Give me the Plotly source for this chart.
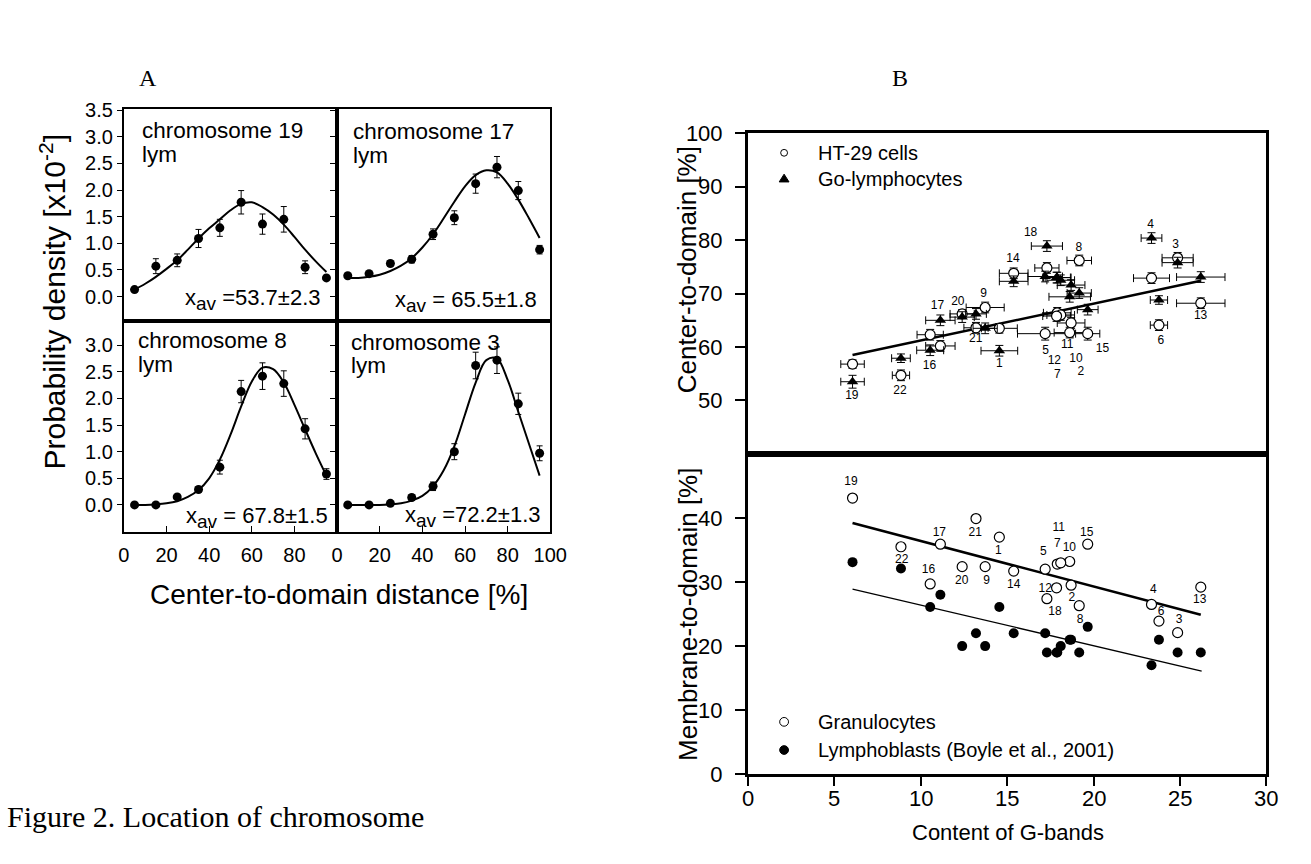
import plotly.graph_objects as go

W, H = 1311, 864
def px(x): return x / W
def py(y): return 1 - y / H

SANS = "Liberation Sans, Arial, sans-serif"
SERIF = "Liberation Serif, Times New Roman, serif"

# ---------------- Panel A data ----------------
bin_centers = [5, 15, 25, 35, 45, 55, 65, 75, 85, 95]
chr19_density = [0.13, 0.57, 0.68, 1.09, 1.29, 1.77, 1.36, 1.45, 0.55, 0.35]
chr19_err     = [0.00, 0.14, 0.12, 0.17, 0.16, 0.22, 0.19, 0.24, 0.12, 0.00]
chr17_density = [0.39, 0.43, 0.62, 0.70, 1.17, 1.48, 2.12, 2.43, 1.99, 0.88]
chr17_err     = [0.00, 0.00, 0.05, 0.07, 0.10, 0.13, 0.18, 0.20, 0.17, 0.08]
chr8_density  = [0.00, 0.00, 0.15, 0.29, 0.71, 2.13, 2.42, 2.28, 1.43, 0.58]
chr8_err      = [0.00, 0.00, 0.03, 0.05, 0.13, 0.21, 0.25, 0.24, 0.19, 0.10]
chr3_density  = [0.00, 0.00, 0.03, 0.14, 0.35, 1.00, 2.62, 2.72, 1.90, 0.97]
chr3_err      = [0.00, 0.00, 0.02, 0.05, 0.08, 0.15, 0.25, 0.25, 0.20, 0.14]

fit_x = [5, 10, 15, 20, 25, 30, 35, 40, 45, 50, 55, 60, 65, 70, 75, 80, 85, 90, 95]
chr19_fit = [0.13, 0.24, 0.37, 0.52, 0.68, 0.88, 1.09, 1.28, 1.45, 1.62, 1.74, 1.77, 1.68, 1.54, 1.35, 1.12, 0.88, 0.66, 0.46]
chr17_fit = [0.35, 0.35, 0.37, 0.41, 0.48, 0.58, 0.72, 0.92, 1.17, 1.47, 1.78, 2.07, 2.28, 2.37, 2.33, 2.12, 1.82, 1.47, 1.10]
chr8_fit  = [0.00, 0.00, 0.01, 0.03, 0.07, 0.15, 0.28, 0.50, 0.85, 1.32, 1.85, 2.32, 2.58, 2.55, 2.30, 1.88, 1.42, 0.97, 0.55]
chr3_fit  = [0.00, 0.00, 0.00, 0.00, 0.01, 0.03, 0.08, 0.17, 0.35, 0.65, 1.10, 1.70, 2.30, 2.72, 2.75, 2.35, 1.75, 1.15, 0.55]

panel_titles = ["chromosome 19", "chromosome 17", "chromosome 8", "chromosome 3"]
panel_sub = "lym"
SUB = "<sub><span style='font-size:19px'>av</span></sub>"
xav_texts = ["x" + SUB + " =53.7±2.3", "x" + SUB + " = 65.5±1.8",
             "x" + SUB + " = 67.8±1.5", "x" + SUB + " =72.2±1.3"]

# ---------------- Panel B data ----------------
chromosomes = ["1", "2", "3", "4", "5", "6", "7", "8", "9", "10", "11",
               "12", "13", "14", "15", "16", "17", "18", "19", "20", "21", "22"]
gband_content = [14.55, 18.70, 24.86, 23.35, 17.20, 23.78, 17.90, 19.17, 13.73, 18.62, 18.10,
                 17.86, 26.20, 15.38, 19.66, 10.55, 11.14, 17.30, 6.06, 12.40, 13.20, 8.86]
ht29_center = [63.5, 64.5, 76.7, 72.9, 62.5, 64.1, 66.4, 76.2, 67.4, 62.7, 66.0,
               65.8, 68.2, 73.8, 62.5, 62.3, 60.2, 74.8, 56.8, 66.2, 63.6, 54.7]
ht29_xerr = [1.04, 0.80, 0.90, 1.04, 1.60, 0.50, 0.80, 0.71, 1.10, 0.90, 0.80,
             0.80, 1.40, 0.83, 0.70, 0.76, 0.85, 0.70, 0.68, 0.70, 0.70, 0.50]
ht29_yerr = [0.9, 1.0, 1.0, 1.0, 1.2, 1.0, 1.0, 1.0, 1.0, 1.0, 1.0,
             1.0, 1.0, 1.0, 1.2, 1.0, 1.0, 1.0, 0.8, 0.8, 1.0, 1.0]
golym_center = [59.3, 71.6, 75.8, 80.4, 73.2, 68.8, 73.0, 70.1, 63.5, 69.4, 72.5,
                73.0, 73.1, 72.3, 67.0, 59.4, 65.0, 78.9, 53.5, 65.6, 66.2, 57.9]
golym_xerr = [1.06, 0.80, 0.90, 0.60, 1.00, 0.50, 0.80, 0.70, 0.70, 1.20, 0.80,
              0.80, 1.40, 0.83, 0.60, 0.78, 0.85, 0.90, 0.68, 0.70, 0.60, 0.54]
golym_yerr = [1.0, 1.0, 1.0, 1.0, 1.0, 0.8, 1.0, 1.0, 1.0, 1.0, 1.0,
              1.0, 1.0, 1.0, 1.0, 1.0, 1.0, 1.0, 1.2, 1.0, 1.0, 0.8]
gran_membrane = [37.0, 29.5, 22.1, 26.5, 32.0, 23.9, 32.8, 26.3, 32.4, 33.2, 33.0,
                 29.1, 29.2, 31.7, 35.9, 29.7, 35.9, 27.4, 43.1, 32.4, 39.9, 35.5]
lymphoblast_membrane = [26.1, 21.0, 19.0, 17.0, 22.0, 21.0, 19.0, 19.0, 20.0, 21.0, 20.0,
                        19.0, 19.0, 22.0, 23.0, 26.1, 28.0, 19.0, 33.1, 20.0, 22.0, 32.1]
gband_ticks = [0, 5, 10, 15, 20, 25, 30]

# regression lines (end points)
fit_center_x = [6.06, 26.2]
fit_center_y = [58.5, 72.4]
fit_gran_x = [6.06, 26.2]
fit_gran_y = [39.2, 24.9]
fit_lymb_x = [6.06, 26.25]
fit_lymb_y = [28.9, 16.1]

# label placements (layout, in data units)
upper_label_x = [14.55, 19.26, 24.74, 23.30, 17.22, 23.89, 17.90, 19.15, 13.64, 18.98, 18.47,
                 17.73, 26.19, 15.34, 20.51, 10.51, 10.97, 16.36, 6.02, 12.15, 13.18, 8.80]
upper_label_y = [56.9, 55.3, 79.1, 82.9, 59.3, 61.1, 54.7, 78.5, 70.0, 57.8, 60.4,
                 57.3, 65.8, 76.5, 59.6, 56.5, 67.6, 81.3, 50.9, 68.5, 61.5, 51.8]
lower_label_x = [14.49, 18.75, 24.94, 23.45, 17.09, 23.90, 17.90, 19.22, 13.81, 18.60, 17.99,
                 17.20, 26.14, 15.38, 19.60, 10.45, 11.08, 17.77, 5.97, 12.37, 13.16, 8.90]
lower_label_y = [34.8, 27.5, 24.0, 28.8, 34.7, 25.3, 35.9, 24.1, 30.2, 35.3, 38.4,
                 28.9, 27.2, 29.5, 37.7, 31.8, 37.6, 25.3, 45.6, 30.2, 37.6, 33.5]

fig = go.Figure()

# ---------------- Panel A traces ----------------
panelsA = [("x", "y", chr19_density, chr19_err, chr19_fit),
           ("x2", "y2", chr17_density, chr17_err, chr17_fit),
           ("x3", "y3", chr8_density, chr8_err, chr8_fit),
           ("x4", "y4", chr3_density, chr3_err, chr3_fit)]
for xa, ya, dens, err, fit in panelsA:
    fig.add_trace(go.Scatter(x=fit_x, y=fit, mode="lines", xaxis=xa, yaxis=ya,
                             line=dict(color="black", width=2, shape="spline"),
                             showlegend=False, hoverinfo="skip"))
    fig.add_trace(go.Scatter(x=bin_centers, y=dens, mode="markers", xaxis=xa, yaxis=ya,
                             marker=dict(color="black", size=9),
                             error_y=dict(type="data", array=err, color="black",
                                          thickness=1, width=3),
                             showlegend=False, cliponaxis=False))

# ---------------- Panel B traces ----------------
fig.add_trace(go.Scatter(x=fit_center_x, y=fit_center_y, mode="lines", xaxis="x5", yaxis="y5",
                         line=dict(color="black", width=2.5), showlegend=False))
fig.add_trace(go.Scatter(x=gband_content, y=ht29_center, mode="markers", xaxis="x5", yaxis="y5",
                         marker=dict(symbol="circle", size=10, color="white",
                                     line=dict(color="black", width=1.2)),
                         error_x=dict(type="data", array=ht29_xerr, color="black", thickness=1, width=4),
                         error_y=dict(type="data", array=ht29_yerr, color="black", thickness=1, width=4),
                         showlegend=False))
fig.add_trace(go.Scatter(x=gband_content, y=golym_center, mode="markers", xaxis="x5", yaxis="y5",
                         marker=dict(symbol="triangle-up", size=10, color="black"),
                         error_x=dict(type="data", array=golym_xerr, color="black", thickness=1, width=4),
                         error_y=dict(type="data", array=golym_yerr, color="black", thickness=1, width=4),
                         showlegend=False))
fig.add_trace(go.Scatter(x=upper_label_x, y=upper_label_y, text=chromosomes, mode="text",
                         xaxis="x5", yaxis="y5", textfont=dict(family=SANS, size=12, color="black"),
                         showlegend=False))

fig.add_trace(go.Scatter(x=fit_gran_x, y=fit_gran_y, mode="lines", xaxis="x6", yaxis="y6",
                         line=dict(color="black", width=2.5), showlegend=False))
fig.add_trace(go.Scatter(x=fit_lymb_x, y=fit_lymb_y, mode="lines", xaxis="x6", yaxis="y6",
                         line=dict(color="black", width=1.3), showlegend=False))
fig.add_trace(go.Scatter(x=gband_content, y=lymphoblast_membrane, mode="markers", xaxis="x6", yaxis="y6",
                         marker=dict(symbol="circle", size=10, color="black"), showlegend=False))
fig.add_trace(go.Scatter(x=gband_content, y=gran_membrane, mode="markers", xaxis="x6", yaxis="y6",
                         marker=dict(symbol="circle", size=10, color="white",
                                     line=dict(color="black", width=1.2)), showlegend=False))
fig.add_trace(go.Scatter(x=lower_label_x, y=lower_label_y, text=chromosomes, mode="text",
                         xaxis="x6", yaxis="y6", textfont=dict(family=SANS, size=12, color="black"),
                         showlegend=False))

# ---------------- Axes ----------------
tickfontA = dict(family=SANS, size=20, color="black")
tickfontB = dict(family=SANS, size=22, color="black")
common = dict(showline=True, linecolor="black", mirror=True, showgrid=False, zeroline=False)

xA_left = [px(120), px(337)]
xA_right = [px(337), px(554)]
yA_top = [py(318), py(100)]
yA_bot = [py(535), py(318)]
top_range = [-0.456, 3.52]
bot_range = [-0.50, 3.46]
yticks_top = [0, 0.5, 1.0, 1.5, 2.0, 2.5, 3.0, 3.5]
yticks_bot = [0, 0.5, 1.0, 1.5, 2.0, 2.5, 3.0]

def ylab(v): return ["%.1f" % t for t in v]

layout_axes = dict(
    xaxis=dict(domain=xA_left, range=[0, 100], anchor="y", showticklabels=False, ticks="",
               linewidth=2, **common),
    yaxis=dict(domain=yA_top, range=top_range, anchor="x", tickvals=yticks_top, ticktext=ylab(yticks_top),
               ticks="outside", ticklen=5, tickcolor="black", tickfont=tickfontA,
               ticklabelstandoff=0, linewidth=2, **common),
    xaxis2=dict(domain=xA_right, range=[0, 100], anchor="y2", showticklabels=False, ticks="",
                linewidth=2, **common),
    yaxis2=dict(domain=yA_top, range=top_range, anchor="x2", tickvals=yticks_top,
                showticklabels=False, ticks="outside", ticklen=5, tickcolor="black",
                linewidth=2, **common),
    xaxis3=dict(domain=xA_left, range=[0, 100], anchor="y3", tickvals=[0, 20, 40, 60, 80],
                ticks="inside", ticklen=6, tickcolor="black", tickfont=tickfontA,
                ticklabelstandoff=4, linewidth=2, **common),
    yaxis3=dict(domain=yA_bot, range=bot_range, anchor="x3", tickvals=yticks_bot, ticktext=ylab(yticks_bot),
                ticks="outside", ticklen=5, tickcolor="black", tickfont=tickfontA,
                ticklabelstandoff=0, linewidth=2, **common),
    xaxis4=dict(domain=xA_right, range=[0, 100], anchor="y4", tickvals=[0, 20, 40, 60, 80, 100],
                ticks="inside", ticklen=6, tickcolor="black", tickfont=tickfontA,
                ticklabelstandoff=4, linewidth=2, **common),
    yaxis4=dict(domain=yA_bot, range=bot_range, anchor="x4", tickvals=yticks_bot,
                showticklabels=False, ticks="outside", ticklen=5, tickcolor="black",
                linewidth=2, **common),
    xaxis5=dict(domain=[px(755), px(1283)], range=[0, 30], anchor="y5", showticklabels=False,
                ticks="", linewidth=2.5, **common),
    yaxis5=dict(domain=[py(455), py(125)], range=[40, 100], anchor="x5",
                tickvals=[50, 60, 70, 80, 90, 100], ticks="outside", ticklen=10, tickwidth=2,
                tickcolor="black", tickfont=tickfontB, ticklabelstandoff=8, linewidth=2.5, **common),
    xaxis6=dict(domain=[px(755), px(1283)], range=[0, 30], anchor="y6",
                tickvals=gband_ticks, ticks="outside", ticklen=9, tickwidth=2,
                tickcolor="black", showticklabels=False, linewidth=2.5, **common),
    yaxis6=dict(domain=[py(785), py(455)], range=[0, 50], anchor="x6",
                tickvals=[0, 10, 20, 30, 40], ticks="outside", ticklen=10, tickwidth=2,
                tickcolor="black", tickfont=tickfontB, ticklabelstandoff=8, linewidth=2.5, **common),
)

# ---------------- Annotations ----------------
ann = []
def add_text(x, y, text, size, family=SANS, xanchor="center", yanchor="middle", angle=0):
    ann.append(dict(x=px(x), y=py(y), xref="paper", yref="paper", text=text, showarrow=False,
                    xanchor=xanchor, yanchor=yanchor, textangle=angle, borderpad=0,
                    font=dict(family=family, size=size, color="black")))

# panel B x tick labels (placed closer to the axis than plotly's default)
for t in gband_ticks:
    ann.append(dict(x=t, xref="x6", y=py(810), yref="paper", text=str(t), showarrow=False,
                    xanchor="center", yanchor="middle", borderpad=0,
                    font=dict(family=SANS, size=22, color="black")))

# panel A in-plot texts
title_pos = [(137, 122, 147), (352, 123, 148), (133, 338, 363), (350, 340, 364)]
for (xx, y1, y2), t in zip(title_pos, panel_titles):
    add_text(xx, y1, t, 22.5, xanchor="left")
    add_text(xx, y2, panel_sub, 22.5, xanchor="left")
xav_pos = [(322, 296), (541, 298), (329, 521), (546, 520)]
for (xx, yy), t in zip(xav_pos, xav_texts):
    add_text(xx, yy, t, 22, xanchor="right")

# axis titles
add_text(48, 298, "Probability density [x10<sup>-2</sup>]", 30, angle=-90)
add_text(339, 600, "Center-to-domain distance [%]", 28)
add_text(694, 265, "Center-to-domain [%]", 26, angle=-90)
add_text(694, 620, "Membrane-to-domain [%]", 26, angle=-90)
add_text(1020, 845, "Content of G-bands", 22)

# panel letters and caption
add_text(145, 68, "A", 24, family=SERIF)
add_text(910, 68, "B", 24, family=SERIF)
add_text(0, 828, "Figure 2. Location of chromosome", 30, family=SERIF, xanchor="left")

# legends (text)
add_text(825, 145, "HT-29 cells", 20, xanchor="left")
add_text(825, 172, "Go-lymphocytes", 20, xanchor="left")
add_text(825, 731, "Granulocytes", 20, xanchor="left")
add_text(825, 760, "Lymphoblasts (Boyle et al., 2001)", 20, xanchor="left")

# legend symbols as shapes
shapes = []
def circ(cx, cy, r, fill):
    shapes.append(dict(type="circle", xref="paper", yref="paper",
                       x0=px(cx - r), x1=px(cx + r), y0=py(cy + r), y1=py(cy - r),
                       line=dict(color="black", width=1), fillcolor=fill))
circ(792, 145, 3.5, "white")
circ(792, 731, 4.5, "white")
circ(792, 760, 4.5, "black")
shapes.append(dict(type="path", xref="paper", yref="paper",
                   path="M %f,%f L %f,%f L %f,%f Z" % (px(787), py(175), px(797), py(175), px(792), py(167)),
                   fillcolor="black", line=dict(color="black", width=1)))

fig.update_layout(
    width=W, height=H, margin=dict(l=0, r=0, t=0, b=0),
    paper_bgcolor="white", plot_bgcolor="white",
    showlegend=False, annotations=ann, shapes=shapes,
    **layout_axes,
)

PIN = ("(function(){var s=document.createElement('style');"
       "s.textContent='html,body{margin:0!important;padding:0!important;overflow:hidden!important;}';"
       "document.head.appendChild(s);})();")

fig.write_html("out.html", config={"displayModeBar": False}, post_script=PIN)
